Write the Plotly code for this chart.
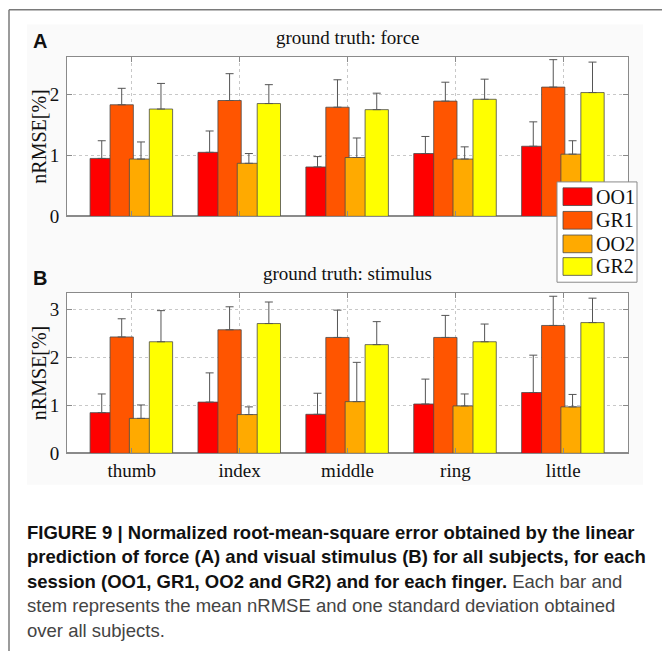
import plotly.graph_objects as go

W = H = 662

fingers = ["thumb", "index", "middle", "ring", "little"]
sessions = ["OO1", "GR1", "OO2", "GR2"]
colors = ["#ff0000", "#ff5500", "#ffaa00", "#ffff00"]

# Panel A: ground truth force (mean nRMSE and SD)
force_OO1 = [0.95, 1.05, 0.81, 1.03, 1.15]
force_GR1 = [1.83, 1.90, 1.79, 1.89, 2.12]
force_OO2 = [0.94, 0.87, 0.965, 0.94, 1.02]
force_GR2 = [1.76, 1.85, 1.75, 1.92, 2.03]
force_OO1_sd = [0.29, 0.35, 0.17, 0.28, 0.40]
force_GR1_sd = [0.27, 0.44, 0.45, 0.31, 0.45]
force_OO2_sd = [0.28, 0.16, 0.32, 0.20, 0.22]
force_GR2_sd = [0.42, 0.31, 0.27, 0.33, 0.50]

# Panel B: ground truth stimulus
stim_OO1 = [0.85, 1.07, 0.815, 1.03, 1.27]
stim_GR1 = [2.43, 2.58, 2.42, 2.42, 2.67]
stim_OO2 = [0.73, 0.81, 1.08, 0.99, 0.97]
stim_GR2 = [2.33, 2.71, 2.27, 2.33, 2.73]
stim_OO1_sd = [0.39, 0.61, 0.44, 0.52, 0.78]
stim_GR1_sd = [0.38, 0.48, 0.57, 0.46, 0.61]
stim_OO2_sd = [0.28, 0.16, 0.82, 0.25, 0.26]
stim_GR2_sd = [0.65, 0.45, 0.48, 0.37, 0.51]

yticks_A = [0, 1, 2]
yticks_B = [0, 1, 2, 3]

force = [force_OO1, force_GR1, force_OO2, force_GR2]
force_sd = [force_OO1_sd, force_GR1_sd, force_OO2_sd, force_GR2_sd]
stim = [stim_OO1, stim_GR1, stim_OO2, stim_GR2]
stim_sd = [stim_OO1_sd, stim_GR1_sd, stim_OO2_sd, stim_GR2_sd]

centers = [-0.278, -0.093, 0.086, 0.271]
bw = 0.216
xpos = list(range(1, len(fingers) + 1))


def px(x):
    return x / W


def py(y):
    return 1 - y / H


fig = go.Figure()
for panel, (vals, sds) in enumerate([(force, force_sd), (stim, stim_sd)]):
    xa = "x" if panel == 0 else "x2"
    ya = "y" if panel == 0 else "y2"
    for k in range(4):
        fig.add_trace(go.Bar(
            x=xpos, y=vals[k], xaxis=xa, yaxis=ya,
            width=bw, offset=centers[k] - bw / 2,
            marker=dict(color=colors[k], line=dict(color="#4a4a4a", width=0.8)),
            error_y=dict(type="data", symmetric=False, array=sds[k],
                         arrayminus=[0] * len(sds[k]), color="#555555",
                         thickness=1, width=4),
            name=sessions[k], showlegend=False,
        ))

serif = "Liberation Serif"
axis_common = dict(
    showline=True, linecolor="#8a8a8a", linewidth=1, mirror="ticks",
    ticks="inside", ticklen=5, tickcolor="#8a8a8a",
    showgrid=True, gridcolor="#c8c8c8", griddash="dot", gridwidth=1,
    tickfont=dict(family=serif, size=19, color="#111"),
)
xd = [px(67), px(628)]
fig.update_layout(
    width=W, height=H, margin=dict(l=0, r=0, t=0, b=0),
    paper_bgcolor="white", plot_bgcolor="rgba(0,0,0,0)",
    barmode="overlay", showlegend=False,
    xaxis=dict(domain=xd, range=[0.4, 5.6], tickvals=xpos, ticktext=[""] * 5,
               anchor="y", zeroline=False, **axis_common),
    yaxis=dict(domain=[py(220), py(58)], range=[0, 2.613], tickvals=yticks_A,
               anchor="x", zeroline=True, zerolinecolor="#8a8a8a", zerolinewidth=2,
               ticklabelstandoff=3, **axis_common),
    xaxis2=dict(domain=xd, range=[0.4, 5.6], tickvals=xpos, ticktext=fingers,
                anchor="y2", zeroline=False, **axis_common),
    yaxis2=dict(domain=[py(461), py(298)], range=[0, 3.347], tickvals=yticks_B,
                anchor="x2", zeroline=True, zerolinecolor="#8a8a8a", zerolinewidth=2,
                ticklabelstandoff=3, **axis_common),
)

shapes = []
# outer frame lines
shapes.append(dict(type="line", xref="paper", yref="paper", x0=px(9), x1=1,
                   y0=py(10), y1=py(10), line=dict(color="#7a7a7a", width=1.5), layer="below"))
shapes.append(dict(type="line", xref="paper", yref="paper", x0=px(9), x1=px(9),
                   y0=py(10), y1=0, line=dict(color="#7a7a7a", width=1.5), layer="below"))
# figure light background
shapes.append(dict(type="rect", xref="paper", yref="paper", x0=px(27), x1=px(643),
                   y0=py(493), y1=py(25), fillcolor="#fafafa", line=dict(width=0), layer="below"))
# white plot areas
for xr, yr in [("x domain", "y domain"), ("x2 domain", "y2 domain")]:
    shapes.append(dict(type="rect", xref=xr, yref=yr, x0=0, x1=1, y0=0, y1=1,
                       fillcolor="white", line=dict(width=0), layer="below"))
# manual legend
shapes.append(dict(type="rect", xref="paper", yref="paper", x0=px(557), x1=px(637),
                   y0=py(287), y1=py(185), fillcolor="white",
                   line=dict(color="#8a8a8a", width=1), layer="above"))
row_y = [200, 224, 248, 271]
annotations = []
for k in range(4):
    shapes.append(dict(type="rect", xref="paper", yref="paper", x0=px(563), x1=px(592),
                       y0=py(row_y[k] + 9), y1=py(row_y[k] - 9), fillcolor=colors[k],
                       line=dict(color="#4a4a4a", width=0.8), layer="above"))
    annotations.append(dict(x=px(594), y=py(row_y[k]), xref="paper", yref="paper",
                            text=sessions[k], showarrow=False, xanchor="left", yanchor="middle",
                            font=dict(family=serif, size=20, color="#111")))
fig.update_layout(shapes=shapes)

# panel titles / labels
for txt, y in [("ground truth: force", 38), ("ground truth: stimulus", 278)]:
    annotations.append(dict(x=px(347.5), y=py(y), xref="paper", yref="paper", text=txt,
                            showarrow=False, xanchor="center", yanchor="middle",
                            font=dict(family=serif, size=19, color="#111")))
for txt, y in [("A", 42), ("B", 283)]:
    annotations.append(dict(x=px(40), y=py(y), xref="paper", yref="paper", text="<b>" + txt + "</b>",
                            showarrow=False, xanchor="center", yanchor="middle",
                            font=dict(family="Liberation Sans", size=20, color="#111")))
for y in [(58 + 220) / 2, (298 + 461) / 2]:
    annotations.append(dict(x=px(39), y=py(y), xref="paper", yref="paper", text="nRMSE[%]",
                            showarrow=False, textangle=-90, xanchor="center", yanchor="middle",
                            font=dict(family=serif, size=20, color="#111")))

# caption
B = '<span style="color:#111"><b>%s</b></span>'
N = '<span style="color:#444">%s</span>'
cap = [
    B % "FIGURE 9 | Normalized root-mean-square error obtained by the linear",
    B % "prediction of force (A) and visual stimulus (B) for all subjects, for each",
    B % "session (OO1, GR1, OO2 and GR2) and for each finger." + " " + N % "Each bar and",
    N % "stem represents the mean nRMSE and one standard deviation obtained",
    N % "over all subjects.",
]
cap_y = [541, 566, 591, 616, 641]
for t, y in zip(cap, cap_y):
    annotations.append(dict(x=px(25), y=py(y), xref="paper", yref="paper", text=t,
                            showarrow=False, xanchor="left", yanchor="middle",
                            font=dict(family="Liberation Sans", size=18.5, color="#333")))
fig.update_layout(annotations=annotations)

fig.write_html("out.html")
